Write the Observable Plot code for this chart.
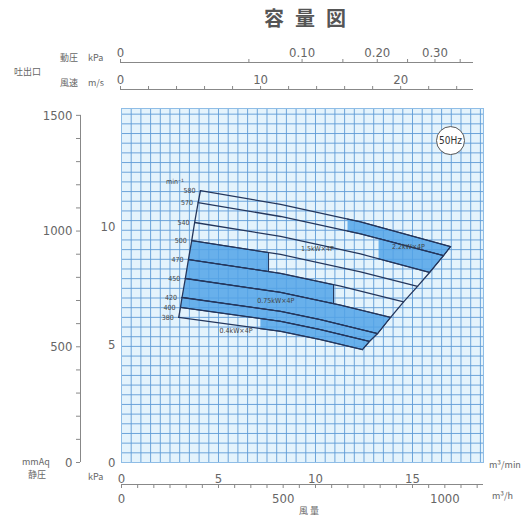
<!DOCTYPE html>
<html><head><meta charset="utf-8">
<script src="https://cdn.jsdelivr.net/npm/d3@7"></script>
<script src="https://cdn.jsdelivr.net/npm/@observablehq/plot@0.6"></script>
<style>
html,body{margin:0;padding:0;background:#fff;}
#wrap{position:relative;width:532px;height:517px;overflow:hidden;font-family:"Liberation Sans","DejaVu Sans",sans-serif;color:#666;}
#wrap svg{position:absolute;left:0;top:0;}
.t{position:absolute;white-space:nowrap;font-size:9px;color:#666;line-height:1;}
.jp{font-family:"Noto Sans CJK JP",sans-serif;}
</style></head><body><div id="wrap"></div><script>
// ---------- data ----------
const titleText = "容量図";
const curveLabels = ["580","570","540","500","470","450","420","400","380"];
const curveQ = [
  [4.07, 8.20, 12.32, 16.96],
  [3.95, 8.20, 12.32, 16.60],
  [3.77, 8.20, 12.32, 15.88],
  [3.62, 8.20, 12.32, 15.26],
  [3.45, 8.20, 11.29, 14.54],
  [3.29, 8.20, 11.29, 13.87],
  [3.12, 8.20, 10.26, 13.20],
  [3.04, 8.20, 10.26, 12.78],
  [2.95, 8.20, 10.26, 12.42]
];
const curveP = [
  [1175, 1115, 1040, 933],
  [1123, 1063, 988, 894],
  [1037, 977, 901, 821],
  [959, 899, 824, 761],
  [877, 817, 762, 694],
  [795, 735, 680, 627],
  [713, 653, 617, 557],
  [670, 610, 574, 523],
  [627, 567, 531, 488]
];
// blue motor zones (Q m3/min, P mmAq)
const zones = [
  [[11.65,1052],[12.32,1040],[16.96,933],[16.60,894],[12.32,988],[11.65,1000]],
  [[13.25,968],[16.60,894],[15.88,821],[13.25,880]],
  [[3.62,959],[7.58,907],[7.58,825],[3.45,877]],
  [[3.45,877],[8.20,817],[10.93,768],[10.93,686],[8.20,735],[3.29,795]],
  [[3.29,795],[8.20,735],[11.29,680],[13.87,627],[13.20,557],[10.26,617],[8.20,653],[3.12,713]],
  [[3.12,713],[8.20,653],[10.26,617],[13.20,557],[12.78,523],[10.26,574],[8.20,610],[3.04,670]],
  [[7.16,622],[8.20,610],[10.26,574],[12.78,523],[12.42,488],[10.26,531],[8.20,567],[7.16,578]]
];
const motorLabels = ["2.2kW×4P","1.5kW×4P","0.75kW×4P","0.4kW×4P"];
const motorQ = [14.79, 10.10, 7.95, 5.90];
const motorP = [933, 922, 700, 568];
const freqLabel = "50Hz";
const mmAqTicks = [0,100,200,300,400,500,600,700,800,900,1000,1100,1200,1300,1400,1500];
const mmAqLabels = [0,500,1000,1500];
const kPaLabels = [0,5,10];
const dynTicks = [0,0.05,0.10,0.15,0.20,0.25,0.30,0.35];
const dynLabels = [0,0.10,0.20,0.30];
const speedTicks = [0,2,4,6,8,10,12,14,16,18,20,22,24];
const speedLabels = [0,10,20];
const flowMinLabels = [0,5,10,15];
const flowHourTicks = [0,50,100,150,200,250,300,350,400,450,500,550,600,650,700,750,800,850,900,950,1000,1050,1100];
const flowHourLabels = [0,500,1000];

// ---------- layout ----------
const W = 532, H = 517;
const wrap = document.getElementById("wrap");
const numFont = "'Liberation Sans Narrow','DejaVu Sans Condensed','Liberation Sans',sans-serif";
const baseStyle = {background: "transparent", color: "#666", fontSize: "13px", fontFamily: numFont, overflow: "visible"};
const fr = {width: W, height: H, marginLeft: 121, marginRight: 49, marginTop: 108, marginBottom: 55};
const plain = d => `${d}`;

// grid layer (kPa units vertically)
wrap.appendChild(Plot.plot({
  ...fr, style: baseStyle,
  x: {domain: [0, 18.66], axis: null},
  y: {domain: [0, 15], axis: null},
  marks: [
    Plot.frame({fill: "#e4f3fc", stroke: "none"}),
    Plot.gridX({interval: 0.5, stroke: "#5f9bd6", strokeOpacity: 0.9}),
    Plot.gridY({interval: 0.41, stroke: "#5f9bd6", strokeOpacity: 0.9}),
    Plot.frame({stroke: "#8fbde6"})
  ]
}));

// main layer
const curveRows = curveQ.flatMap((qs, i) => qs.map((q, j) => ({c: i, Q: q, P: curveP[i][j]})));
const leftB = curveQ.map((qs, i) => ({Q: qs[0], P: curveP[i][0]}));
const rightB = curveQ.map((qs, i) => ({Q: qs[qs.length - 1], P: curveP[i][qs.length - 1]}));
const zoneRows = zones.flatMap((z, k) => z.map(([Q, P]) => ({k, Q, P})));
const labelRows = curveLabels.map((t, i) => ({t, Q: curveQ[i][0], P: curveP[i][0]}));
const motorRows = motorLabels.map((t, i) => ({t, Q: motorQ[i], P: motorP[i]}));

wrap.appendChild(Plot.plot({
  ...fr, style: baseStyle,
  x: {domain: [0, 18.66], axis: null},
  y: {domain: [0, 1529.6], axis: null},
  marks: [
    Plot.line(zoneRows, {x: "Q", y: "P", z: "k", fill: "#52a3e7", fillOpacity: 0.85, stroke: "#24365c", strokeWidth: 1}),
    Plot.line(curveRows, {x: "Q", y: "P", z: "c", stroke: "#24365c", strokeWidth: 1.3}),
    Plot.line(leftB, {x: "Q", y: "P", stroke: "#24365c", strokeWidth: 1.3}),
    Plot.line(rightB, {x: "Q", y: "P", stroke: "#24365c", strokeWidth: 1.3}),
    Plot.text(labelRows, {x: "Q", y: "P", text: "t", dx: -5, textAnchor: "end", fontSize: 7, fill: "#444"}),
    Plot.text(["min⁻¹"], {x: 2.75, y: 1215, text: d => d, fontSize: 7, fill: "#444"}),
    Plot.text(motorRows, {x: "Q", y: "P", text: "t", fontSize: 7, fill: "#444"}),
    Plot.dot([freqLabel], {x: 16.96, y: 1391, r: 14, fill: "white", stroke: "#555", strokeWidth: 1}),
    Plot.text([freqLabel], {x: 16.96, y: 1391, text: d => d, fontSize: 10, fill: "#333"})
  ]
}));

// left mmAq axis
wrap.appendChild(Plot.plot({
  width: W, height: H, marginLeft: 80, marginRight: W - 81, marginTop: 108, marginBottom: 55, style: baseStyle,
  x: {domain: [0, 1], axis: null},
  y: {domain: [0, 1529.6], axis: null},
  marks: [
    Plot.ruleX([0], {y1: 0, y2: 1500, stroke: "#888"}),
    Plot.axisY({ticks: mmAqTicks, tickSize: 4, tickFormat: () => "", stroke: "#888"}),
    Plot.axisY({ticks: mmAqLabels, tickSize: 0, tickPadding: 8, tickFormat: plain})
  ]
}));

// static kPa axis
wrap.appendChild(Plot.plot({
  ...fr, style: baseStyle,
  x: {domain: [0, 1], axis: null},
  y: {domain: [0, 15], axis: null},
  marks: [Plot.axisY({ticks: kPaLabels, tickSize: 0, tickPadding: 6, tickFormat: plain})]
}));

// top dynamic pressure axis
wrap.appendChild(Plot.plot({
  width: W, height: H, marginLeft: 120, marginRight: 59, marginTop: 62, marginBottom: H - 63, style: baseStyle,
  x: {type: "sqrt", domain: [0, 0.378], axis: null},
  y: {domain: [0, 1], axis: null},
  marks: [
    Plot.ruleY([1], {stroke: "#888"}),
    Plot.axisX({anchor: "top", ticks: dynTicks, tickSize: 4, tickFormat: () => "", stroke: "#888"}),
    Plot.axisX({anchor: "top", ticks: dynLabels, tickSize: 0, tickPadding: 6, tickFormat: d => d === 0 ? "0" : d.toFixed(2)})
  ]
}));

// top speed axis
wrap.appendChild(Plot.plot({
  width: W, height: H, marginLeft: 120, marginRight: 59, marginTop: 89, marginBottom: H - 90, style: baseStyle,
  x: {domain: [0, 25.2], axis: null},
  y: {domain: [0, 1], axis: null},
  marks: [
    Plot.ruleY([1], {stroke: "#888"}),
    Plot.axisX({anchor: "top", ticks: speedTicks, tickSize: 4, tickFormat: () => "", stroke: "#888"}),
    Plot.axisX({anchor: "top", ticks: speedLabels, tickSize: 0, tickPadding: 6, tickFormat: plain})
  ]
}));

// bottom m3/min axis
wrap.appendChild(Plot.plot({
  width: W, height: H, marginLeft: 121, marginRight: 49, marginTop: 484, marginBottom: H - 485, style: baseStyle,
  x: {domain: [0, 18.66], axis: null},
  y: {domain: [0, 1], axis: null},
  marks: [
    Plot.ruleY([1], {stroke: "#888"}),
    Plot.axisX({anchor: "top", ticks: flowMinLabels, tickSize: 0, tickPadding: 2, tickFormat: plain})
  ]
}));

// bottom m3/h axis
wrap.appendChild(Plot.plot({
  width: W, height: H, marginLeft: 121, marginRight: 49, marginTop: 483, marginBottom: H - 484, style: baseStyle,
  x: {domain: [0, 1119.6], axis: null},
  y: {domain: [0, 1], axis: null},
  marks: [
    Plot.axisX({anchor: "bottom", ticks: flowHourTicks, tickSize: 4, tickFormat: () => "", stroke: "#888"}),
    Plot.axisX({anchor: "bottom", ticks: flowHourLabels, tickSize: 0, tickPadding: 9, tickFormat: plain})
  ]
}));

// texts
function addText(txt, left, top, size, extra) {
  const d = document.createElement("div");
  d.className = "t jp";
  d.textContent = txt;
  d.style.left = left + "px"; d.style.top = top + "px"; d.style.fontSize = size + "px";
  if (extra) Object.assign(d.style, extra);
  wrap.appendChild(d);
}
addText(titleText, 264, 8, 20, {fontWeight: "bold", letterSpacing: "11px", color: "#555"});
addText("吐出口", 14, 67, 9);
addText("動圧", 60, 53, 9); addText("kPa", 88, 53, 9);
addText("風速", 60, 78, 9); addText("m/s", 88, 78, 9);
addText("mmAq", 22, 457, 9); addText("静圧", 28, 470, 9); addText("kPa", 88, 472, 9);
addText("m³/min", 489, 460, 9); addText("m³/h", 492, 491, 9);
addText("風 量", 299, 506, 9);
</script></body></html>
